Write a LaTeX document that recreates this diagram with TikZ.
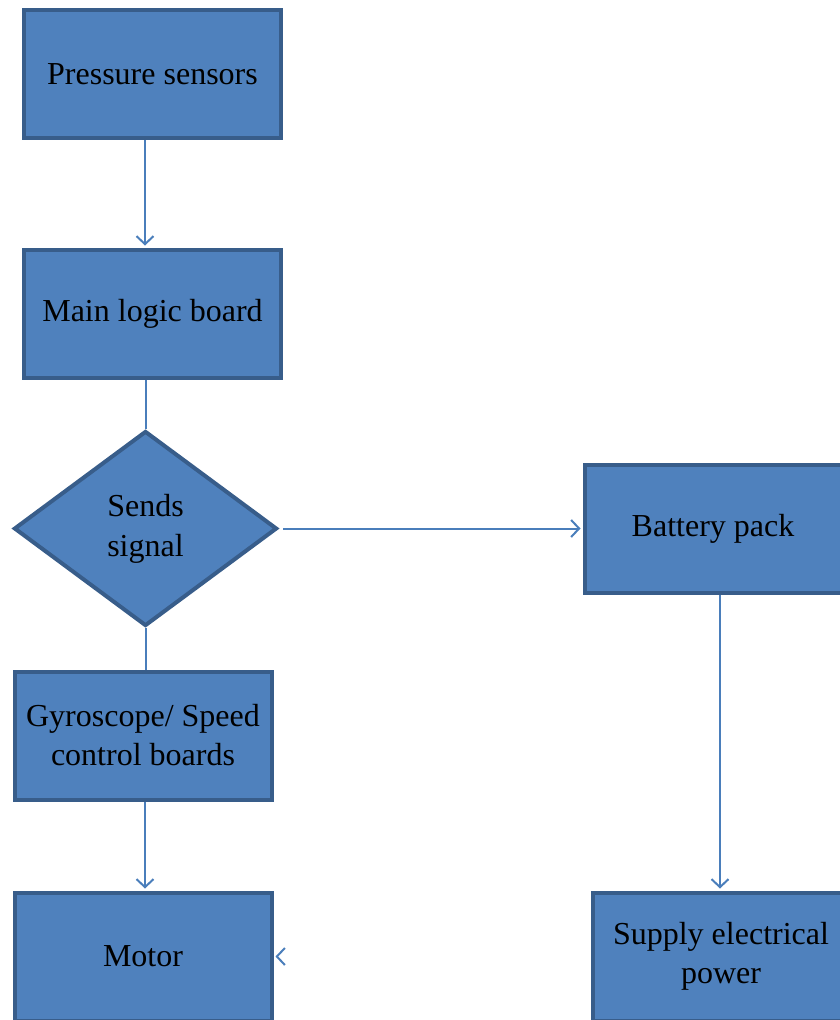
\documentclass[tikz,border=0pt]{standalone}
\usepackage{fontspec}
\setmainfont{Liberation Serif}
\usetikzlibrary{shapes.geometric,arrows.meta}
\definecolor{boxfill}{HTML}{4F81BD}
\definecolor{boxline}{HTML}{385D8A}
\definecolor{arrline}{HTML}{4A7EBB}

\begin{document}
\begin{tikzpicture}[x=1pt, y=1pt,
    block/.style={rectangle, draw=boxline, fill=boxfill, line width=4pt, minimum width=257pt, minimum height=128pt, inner sep=0pt, align=center, font=\fontsize{32}{39}\selectfont},
    decision/.style={diamond, draw=boxline, fill=boxfill, line width=4pt, minimum width=263pt, minimum height=195pt, aspect=1.35, inner sep=0pt, align=center, font=\fontsize{32}{40}\selectfont},
    link/.style={draw=arrline, line width=2pt},
    arr/.style={link, shorten >=2pt, -{Straight Barb[length=8pt, width=17pt]}}]

        \useasboundingbox (0,0) rectangle (840,-1020);

        % Columna izquierda
        \node[block] (press) at (152.5,-74) {Pressure sensors};
        \node[block, below of=press, node distance=239.5pt] (logic) {Main logic board};
        \node[decision, below of=logic, node distance=215pt, xshift=-7pt] (diamond) {Sends\\signal};
        \node[block, below of=diamond, node distance=207pt, xshift=-2.5pt] (gyro) {Gyroscope/ Speed\\control boards};
        \node[block, below of=gyro, node distance=221pt] (motor) {Motor};

        % Columna derecha
        \node[block, right of=diamond, node distance=567.5pt] (battery) {Battery pack};
        \node[block, below of=battery, node distance=428pt, xshift=8pt] (supply) {Supply electrical\\power};

        % Conexiones verticales
        \draw[arr] ([xshift=-7.5pt]press.south) -- ([xshift=-7.5pt]logic.north);
        \draw[link] (diamond.north |- logic.south) -- (diamond.north);
        \draw[link] (diamond.south) -- (diamond.south |- gyro.north);
        \draw[arr] ([xshift=2pt]gyro.south) -- ([xshift=2pt]motor.north);
        \draw[arr] ([xshift=7pt]battery.south) -- ([xshift=-1pt]supply.north);

        % Conexion horizontal
        \draw[arr] ([xshift=4pt]diamond.east) -- (battery.west);

        % Punta suelta junto al motor
        \coordinate (loose) at ([xshift=3pt]motor.east);
        \draw[arr] (loose) -- (motor.east);

\end{tikzpicture}
\end{document}
